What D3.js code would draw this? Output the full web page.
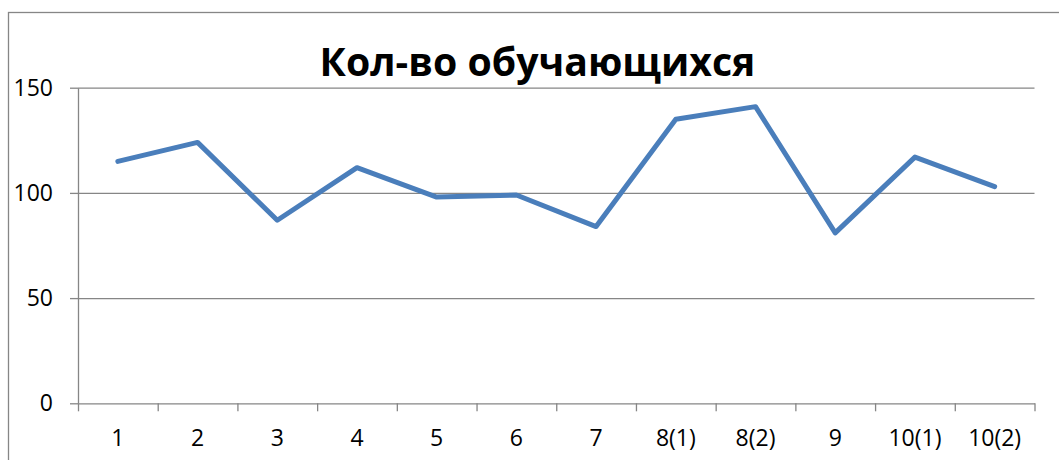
<!DOCTYPE html>
<html><head>
<meta charset="utf-8">
<script src="https://d3js.org/d3.v7.min.js"></script>
<style>
  body { margin: 0; background: #fff; }
  svg text { font-family: "Open Sans", "DejaVu Sans", sans-serif; fill: #000; }
  .axis .domain, .axis line { stroke: #868686; stroke-width: 1.3px; }
  .gridlines line { stroke: #868686; stroke-width: 1.3px; }
  .gridlines .domain { stroke: none; }
</style>
</head>
<body>
<svg id="chart" width="1059" height="460"></svg>
<script>
  // data
  const categories = ["1", "2", "3", "4", "5", "6", "7", "8(1)", "8(2)", "9", "10(1)", "10(2)"];
  const students = [115, 124, 87, 112, 98, 99, 84, 135, 141, 81, 117, 103];
  const yTicks = [0, 50, 100, 150];
  const title = "Кол-во обучающихся";

  const svg = d3.select("svg#chart");
  const margins = {top: 87.7, left: 78, right: 1034.5, bottom: 403.3};

  // outer chart border (runs off the right and bottom edges)
  svg.append("rect")
     .attr("x", 8.5).attr("y", 12.5)
     .attr("width", 1200).attr("height", 600)
     .attr("fill", "none")
     .attr("stroke", "#868686")
     .attr("stroke-width", 1.3);

  const xScale = d3.scaleBand().domain(categories).range([margins.left, margins.right]).padding(0);
  const yScale = d3.scaleLinear().domain([0, 150]).range([margins.bottom, margins.top]);
  // used only for the tick marks at category edges
  const edgeScale = d3.scaleLinear().domain([0, categories.length]).range([margins.left, margins.right]);

  // gridlines
  svg.append("g")
     .attr("class", "gridlines")
     .attr("transform", "translate(" + margins.left + ",0)")
     .call(d3.axisLeft(yScale).tickValues(yTicks.slice(1)).tickFormat("").tickSize(-(margins.right - margins.left)));

  // y axis
  let leftAxis = d3.axisLeft(yScale).tickValues(yTicks).tickSize(8).tickPadding(17).tickSizeOuter(0);
  svg.append("g")
     .attr("class", "y axis")
     .attr("transform", "translate(" + margins.left + ",0)")
     .call(leftAxis)
     .selectAll("text").style("font-size", "23px");

  // x axis: tick marks between categories
  svg.append("g")
     .attr("class", "x axis")
     .attr("transform", "translate(0," + margins.bottom + ")")
     .call(d3.axisBottom(edgeScale).ticks(categories.length).tickFormat("").tickSize(8).tickSizeOuter(0));

  // x labels centred on each category
  let bottomLabels = svg.append("g")
     .attr("transform", "translate(0," + margins.bottom + ")")
     .call(d3.axisBottom(xScale).tickSize(0).tickPadding(26));
  bottomLabels.select(".domain").remove();
  bottomLabels.selectAll("text").style("font-size", "23px");

  // the line
  const line = d3.line()
     .x((d, i) => xScale(categories[i]) + xScale.bandwidth() / 2)
     .y(d => yScale(d));

  svg.append("path")
     .datum(students)
     .attr("d", line)
     .attr("fill", "none")
     .attr("stroke", "#4A7EBB")
     .attr("stroke-width", 5)
     .attr("stroke-linejoin", "round")
     .attr("stroke-linecap", "round");

  // title, sized to the width in the picture
  let t = svg.append("text")
     .attr("x", 537.5).attr("y", 76)
     .attr("text-anchor", "middle")
     .style("font-weight", "bold")
     .style("font-size", "40px")
     .text(title);
  let w = t.node().getComputedTextLength();
  t.style("font-size", (40 * 436 / w) + "px");
</script>
</body>
</html>
